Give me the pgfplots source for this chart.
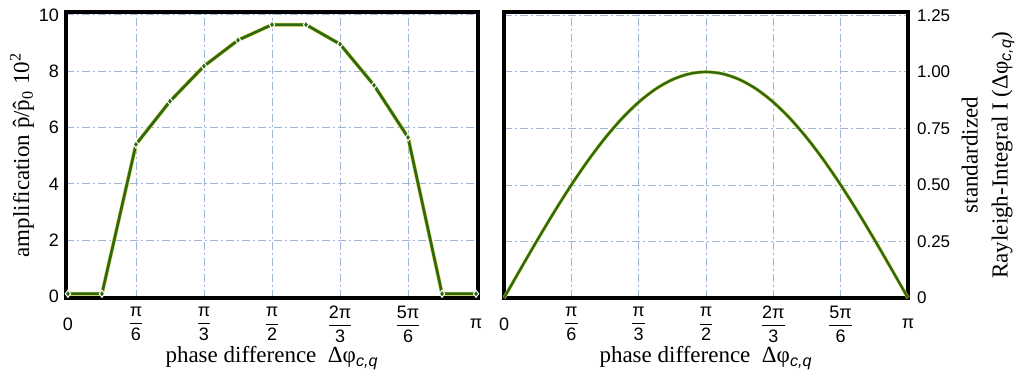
\documentclass[border=0pt]{standalone}
\usepackage{fontspec}
\setmainfont{Liberation Serif}
\setsansfont{Liberation Sans}
\usepackage{pgfplots}
\pgfplotsset{compat=1.18}
\definecolor{curvegreen}{RGB}{45,105,20}
\definecolor{curveyellow}{RGB}{215,210,60}
\definecolor{gridblue}{RGB}{160,180,212}
\pgfplotsset{
  chartbase/.style={
    scale only axis,
    axis line style={line width=1.6pt,black},
    major tick length=0pt,
    grid=major,
    major grid style={gridblue,line width=0.45pt,dash pattern=on 4pt off 1.5pt on 1pt off 1.5pt},
    xtick={0,0.5236,1.0472,1.5708,2.0944,2.6180,3.1416},
    xticklabels={0,$\displaystyle\frac{\textsf{π}}{\textsf{6}}$,$\displaystyle\frac{\textsf{π}}{\textsf{3}}$,$\displaystyle\frac{\textsf{π}}{\textsf{2}}$,$\displaystyle\frac{\textsf{2π}}{\textsf{3}}$,$\displaystyle\frac{\textsf{5π}}{\textsf{6}}$,π},
    xticklabel style={font=\sffamily\fontsize{9}{10}\selectfont,anchor=center,yshift=-13pt},
    yticklabel style={font=\sffamily\fontsize{9}{11}\selectfont},
    clip=false,
  }
}
\begin{document}
\begin{tikzpicture}[x=1pt,y=1pt]
\path (0,0) rectangle (516,192.5);
% left chart
\begin{axis}[chartbase,
  at={(33pt,43.5pt)}, anchor=south west,
  width=206pt, height=143pt,
  xmin=-0.015, xmax=3.1566, ymin=-0.05, ymax=10.1,
  ytick={0,2,4,6,8,10}, yticklabels={0,2,4,6,8,10},
]
\addplot[curveyellow, line width=1.9pt] coordinates {
(0,0.1) (0.2618,0.1) (0.5236,5.4) (0.7854,6.93) (1.0472,8.18) (1.3090,9.1) (1.5708,9.65) (1.8326,9.65) (2.0944,8.96) (2.3562,7.5) (2.6180,5.65) (2.8798,0.1) (3.1416,0.1)};
\addplot[curvegreen, line width=1.35pt, mark=diamond*, mark size=1.8pt,
  mark options={fill=curvegreen, draw=white, line width=0.5pt}] coordinates {
(0,0.1) (0.2618,0.1) (0.5236,5.4) (0.7854,6.93) (1.0472,8.18) (1.3090,9.1) (1.5708,9.65) (1.8326,9.65) (2.0944,8.96) (2.3562,7.5) (2.6180,5.65) (2.8798,0.1) (3.1416,0.1)};
\node[xshift=-22pt, rotate=90, anchor=center, font=\fontsize{11.5}{14}\selectfont] at (rel axis cs:0,0.5) {amplification \^{p}/\^{p}\textsubscript{0} 10\textsuperscript{2}};
\node[yshift=-32.5pt, anchor=base, font=\fontsize{11.5}{14}\selectfont] at (rel axis cs:0.5,0) {phase difference\ \ Δφ\textsubscript{\textit{\sffamily c,q}}};
\end{axis}
% right chart
\begin{axis}[chartbase,
  at={(252pt,43.5pt)}, anchor=south west,
  width=202pt, height=143pt,
  xmin=0, xmax=3.1416, ymin=0, ymax=1.265,
  ytick={0,0.25,0.5,0.75,1,1.25}, yticklabels={0,0.25,0.50,0.75,1.00,1.25},
  yticklabel pos=right,
  yticklabel style={anchor=west, xshift=1pt, font=\sffamily\fontsize{8.5}{10}\selectfont},
]
\addplot[curveyellow, line width=1.7pt, smooth] coordinates {
(0,0) (0.1309,0.1305) (0.2618,0.2588) (0.3927,0.3827) (0.5236,0.5) (0.6545,0.6088) (0.7854,0.7071) (0.9163,0.7934) (1.0472,0.8660) (1.1781,0.9239) (1.3090,0.9659) (1.4399,0.9914) (1.5708,1) (1.7017,0.9914) (1.8326,0.9659) (1.9635,0.9239) (2.0944,0.8660) (2.2253,0.7934) (2.3562,0.7071) (2.4871,0.6088) (2.6180,0.5) (2.7489,0.3827) (2.8798,0.2588) (3.0107,0.1305) (3.1416,0)};
\addplot[curvegreen, line width=1.2pt, smooth] coordinates {
(0,0) (0.1309,0.1305) (0.2618,0.2588) (0.3927,0.3827) (0.5236,0.5) (0.6545,0.6088) (0.7854,0.7071) (0.9163,0.7934) (1.0472,0.8660) (1.1781,0.9239) (1.3090,0.9659) (1.4399,0.9914) (1.5708,1) (1.7017,0.9914) (1.8326,0.9659) (1.9635,0.9239) (2.0944,0.8660) (2.2253,0.7934) (2.3562,0.7071) (2.4871,0.6088) (2.6180,0.5) (2.7489,0.3827) (2.8798,0.2588) (3.0107,0.1305) (3.1416,0)};
\node[xshift=40pt, rotate=90, anchor=center, align=center, font=\fontsize{11.5}{15}\selectfont] at (rel axis cs:1,0.5) {standardized\\Rayleigh-Integral I (Δφ\textsubscript{\textit{\sffamily c,q}})};
\node[yshift=-32.5pt, anchor=base, font=\fontsize{11.5}{14}\selectfont] at (rel axis cs:0.5,0) {phase difference\ \ Δφ\textsubscript{\textit{\sffamily c,q}}};
\end{axis}
\end{tikzpicture}
\end{document}
